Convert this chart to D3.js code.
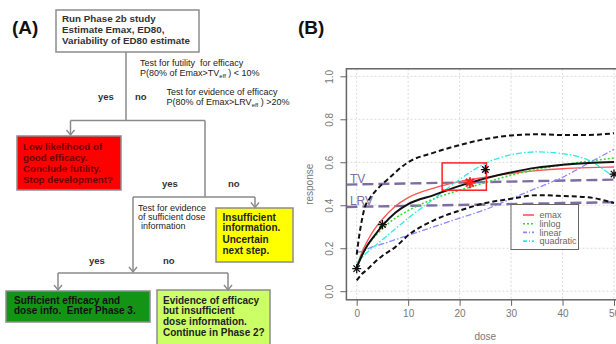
<!DOCTYPE html>
<html><head><meta charset="utf-8">
<script src="https://cdn.jsdelivr.net/npm/d3@7"></script>
<style>
html,body{margin:0;padding:0;background:#fff;}
svg{display:block;font-family:"Liberation Sans",Arial,sans-serif;}
</style></head>
<body>
<svg id="chart" width="616" height="344"></svg>
<script>
// ---------------- DATA (panel B) ----------------
const doseGrid   = [0,1,2,3.5,5,7.5,10,15,20,25,30,35,40,45,50];
const meanResp   = [0.11,0.165,0.21,0.26,0.305,0.365,0.405,0.447,0.49,0.525,0.553,0.575,0.588,0.597,0.601];
const emaxResp   = [0.11,0.18,0.23,0.29,0.335,0.395,0.435,0.48,0.51,0.53,0.548,0.561,0.57,0.575,0.578];
const linlogResp = [0.12,0.17,0.21,0.255,0.29,0.34,0.375,0.43,0.47,0.505,0.54,0.567,0.588,0.605,0.62];
const linearResp = [0.18,0.185,0.195,0.21,0.22,0.24,0.26,0.30,0.34,0.38,0.43,0.48,0.53,0.595,0.66];
const quadResp   = [0.13,0.155,0.18,0.21,0.24,0.29,0.34,0.43,0.52,0.595,0.635,0.648,0.64,0.61,0.53];
const lowerResp  = [0.05,0.08,0.10,0.135,0.165,0.205,0.26,0.33,0.375,0.41,0.43,0.447,0.443,0.437,0.41];
const upperDose  = [0,0.5,1,1.5,2.5,4,6,10,15,20,25,30,35,40,45,50];
const upperResp  = [0.17,0.26,0.33,0.385,0.43,0.475,0.52,0.6,0.645,0.68,0.708,0.725,0.73,0.727,0.727,0.735];
const obsDose    = [0,5,25,50];
const obsResp    = [0.105,0.31,0.566,0.545];
const ed80Dose   = [22];
const ed80Resp   = [0.505];
const boxDose    = [16.6,25.2];
const boxResp    = [0.47,0.597];
const refLabels  = ["TV","LRV"];
const refStart   = [0.496,0.392];   // value at left edge
const refEnd     = [0.52,0.415];    // value at right edge
const xTicks     = [0,10,20,30,40,50];
const yTicks     = [0,0.2,0.4,0.6,0.8,1.0];
const legendLabels = ["emax","linlog","linear","quadratic"];

const svg = d3.select("#chart");
const FONT = '"Liberation Sans",Arial,sans-serif';

// ---------------- PANEL A: flowchart ----------------
const A = svg.append("g");
A.append("text").attr("x",12).attr("y",34).attr("font-size",19).attr("font-weight","bold").attr("fill","#111").text("(A)");

const lineCol = "#8a8a8a";
function seg(x1,y1,x2,y2){ A.append("line").attr("x1",x1).attr("y1",y1).attr("x2",x2).attr("y2",y2).attr("stroke",lineCol).attr("stroke-width",1.5); }
function arrowDown(x,y1,y2){
  seg(x,y1,x,y2);
  A.append("path").attr("d",`M${x-4},${y2-5}L${x},${y2}L${x+4},${y2-5}`).attr("fill","none").attr("stroke",lineCol).attr("stroke-width",1.4);
}

const boxes = [
  {x:56,y:10,w:143,h:42,fill:"#fff",col:"#333",tx:62,fs:9.8,lines:["Run Phase 2b study","Estimate Emax, ED80,","Variability of ED80 estimate"],bl:[22,33,44]},
  {x:17,y:136,w:104,h:54,fill:"#ff0000",col:"#6b0000",tx:23,fs:9.7,lines:["Low likelihood of","good efficacy.","Conclude futility.","Stop development?"],bl:[150,161,172,183]},
  {x:216,y:208,w:77,h:54,fill:"#ffff00",col:"#222",tx:222.5,fs:10,lines:["Insufficient","information.","Uncertain","next step."],bl:[221,231,242.5,253.5]},
  {x:6,y:291,w:144,h:31,fill:"#149414",col:"#111",tx:14,fs:10,lines:["Sufficient efficacy and","dose info.  Enter Phase 3."],bl:[303.5,314]},
  {x:157,y:290,w:113,h:60,fill:"#ccff66",col:"#222",tx:163,fs:10,lines:["Evidence of efficacy","but insufficient","dose information.","Continue in Phase 2?"],bl:[303.5,314,324.5,335.5]}
];
boxes.forEach(b=>{
  A.append("rect").attr("x",b.x).attr("y",b.y).attr("width",b.w).attr("height",b.h).attr("fill",b.fill).attr("stroke","#8c8c8c").attr("stroke-width",1.5);
  b.lines.forEach((t,i)=>A.append("text").attr("x",b.tx).attr("y",b.bl[i]).attr("font-size",b.fs).attr("font-weight","bold").attr("fill",b.col).attr("xml:space","preserve").text(t));
});

// connectors
seg(126,52,126,121);
seg(70.5,120.5,205,120.5);
arrowDown(70.5,120.5,135);
seg(205,120.5,205,197);
seg(133,197,255,197);
arrowDown(255,197,207.5);
arrowDown(133,197,272);
seg(58,273,228,273);
arrowDown(58,273,290);
arrowDown(228,273,290);

function smallText(x,y,parts,bold){
  const t = A.append("text").attr("x",x).attr("y",y).attr("font-size",9).attr("fill","#222").attr("xml:space","preserve");
  if(bold) t.attr("font-weight","bold");
  parts.forEach(p=>{
    const s = t.append("tspan").text(p.t);
    if(p.sub){ s.attr("font-size",6).attr("dy",2); }
    if(p.up){ s.attr("dy",-2); }
  });
}
smallText(140,66,[{t:"Test for futility  for efficacy"}]);
smallText(140,75.5,[{t:"P(80% of Emax>TV"},{t:"eff",sub:true},{t:" ) < 10%",up:true}]);
smallText(166.5,95,[{t:"Test for evidence of efficacy"}]);
smallText(166.5,105,[{t:"P(80% of Emax>LRV"},{t:"eff",sub:true},{t:" ) >20%",up:true}]);
smallText(138,210.5,[{t:"Test for evidence"}]);
smallText(138,220,[{t:"of sufficient dose"}]);
smallText(141,229,[{t:"information"}]);

function yn(x,y,t){ A.append("text").attr("x",x).attr("y",y).attr("font-size",9.5).attr("font-weight","bold").attr("fill","#333").text(t); }
yn(98,100,"yes"); yn(135,100,"no");
yn(162,187,"yes"); yn(228,187,"no");
yn(89,264,"yes"); yn(163,264,"no");

// ---------------- PANEL B: dose-response ----------------
const B = svg.append("g");
B.append("text").attr("x",298).attr("y",34).attr("font-size",19).attr("font-weight","bold").attr("fill","#111").text("(B)");

const x = d3.scaleLinear().domain([0,50]).range([356.7,614]);
const y = d3.scaleLinear().domain([0,1]).range([291.2,76.3]);
const fx0 = x(-2), fx1 = x(52), fy0 = y(-0.04), fy1 = y(1.035);

svg.append("clipPath").attr("id","plotclip").append("rect")
  .attr("x",fx0).attr("y",fy1).attr("width",fx1-fx0).attr("height",fy0-fy1);

// grid
const grid = B.append("g");
xTicks.forEach(v=>grid.append("line").attr("x1",x(v)).attr("x2",x(v)).attr("y1",fy1).attr("y2",fy0)
  .attr("stroke","#d9d9d9").attr("stroke-dasharray","2,2").attr("stroke-width",1));
yTicks.forEach(v=>grid.append("line").attr("x1",fx0).attr("x2",fx1).attr("y1",y(v)).attr("y2",y(v))
  .attr("stroke","#d9d9d9").attr("stroke-dasharray","2,2").attr("stroke-width",1));

// axes (R style)
const axCol = "#666";
const xAxis = B.append("g").attr("transform",`translate(0,${fy0})`)
  .call(d3.axisBottom(x).tickValues(xTicks).tickSize(6).tickSizeOuter(0).tickFormat(d3.format("d")));
xAxis.select(".domain").remove();
xAxis.selectAll("line").attr("stroke",axCol);
xAxis.selectAll("text").attr("fill","#777").attr("font-size",10).attr("font-family",FONT).attr("dy","0.9em").attr("y",8);

const yAxis = B.append("g").attr("transform",`translate(${fx0},0)`)
  .call(d3.axisLeft(y).tickValues(yTicks).tickSize(6).tickSizeOuter(0).tickFormat(d3.format(".1f")));
yAxis.select(".domain").remove();
yAxis.selectAll("line").attr("stroke",axCol);
yAxis.selectAll("text").attr("fill","#777").attr("font-size",10).attr("font-family",FONT)
  .attr("text-anchor","middle").attr("x",null).attr("dy",null)
  .attr("transform","translate(-13.5,0) rotate(-90)").attr("y",0);

// frame
B.append("rect").attr("x",fx0).attr("y",fy1).attr("width",fx1-fx0).attr("height",fy0-fy1)
  .attr("fill","none").attr("stroke","#666").attr("stroke-width",1.5);

B.append("text").attr("x",(fx0+fx1)/2).attr("y",340).attr("text-anchor","middle").attr("font-size",10).attr("fill","#777").text("dose");
B.append("text").attr("transform",`translate(313,${(fy0+fy1)/2}) rotate(-90)`).attr("text-anchor","middle").attr("font-size",10).attr("fill","#777").text("response");

const P = B.append("g").attr("clip-path","url(#plotclip)");
const line = d3.line().curve(d3.curveMonotoneX);
const pts = (xs,ys)=>xs.map((d,i)=>[x(d),y(ys[i])]);

// reference lines TV, LRV
const purple = "#7e6ca3";
refLabels.forEach((lab,i)=>{
  P.append("line").attr("x1",fx0).attr("x2",fx1).attr("y1",y(refStart[i])).attr("y2",y(refEnd[i]))
    .attr("stroke",purple).attr("stroke-width",2.4).attr("stroke-dasharray","11,5");
  B.append("text").attr("x",fx0+3.5).attr("y",y(refStart[i])-1.5).attr("font-size",12).attr("fill",purple).text(lab);
});

// fitted model curves
const models = [
  {vals:emaxResp,   col:"#ff5555", dash:null,        w:1.4},
  {vals:linlogResp, col:"#33dd33", dash:"2,2",       w:1.6},
  {vals:linearResp, col:"#8888ff", dash:"6,2,1.5,2", w:1.3},
  {vals:quadResp,   col:"#33e6e6", dash:"6,2,1.5,2", w:1.3}
];
models.forEach(m=>{
  const p = P.append("path").attr("d",line(pts(doseGrid,m.vals))).attr("fill","none")
    .attr("stroke",m.col).attr("stroke-width",m.w);
  if(m.dash) p.attr("stroke-dasharray",m.dash);
});

// confidence bands
P.append("path").attr("d",line(pts(upperDose,upperResp))).attr("fill","none").attr("stroke","#111").attr("stroke-width",2).attr("stroke-dasharray","5,3");
P.append("path").attr("d",line(pts(doseGrid,lowerResp))).attr("fill","none").attr("stroke","#111").attr("stroke-width",2).attr("stroke-dasharray","5,3");
// model-averaged mean
P.append("path").attr("d",line(pts(doseGrid,meanResp))).attr("fill","none").attr("stroke","#111").attr("stroke-width",2);

// ED80 box
P.append("rect").attr("x",x(boxDose[0])).attr("y",y(boxResp[1]))
  .attr("width",x(boxDose[1])-x(boxDose[0])).attr("height",y(boxResp[0])-y(boxResp[1]))
  .attr("fill","none").attr("stroke","#ff2020").attr("stroke-width",1.5);

function star(g,cx,cy,r,col,w){
  const d = `M${cx-r},${cy}L${cx+r},${cy}M${cx},${cy-r}L${cx},${cy+r}`+
    `M${cx-r*0.72},${cy-r*0.72}L${cx+r*0.72},${cy+r*0.72}M${cx-r*0.72},${cy+r*0.72}L${cx+r*0.72},${cy-r*0.72}`;
  g.append("path").attr("d",d).attr("stroke",col).attr("stroke-width",w).attr("fill","none");
}
obsDose.forEach((d,i)=>star(B,x(d),y(obsResp[i]),4.5,"#111",1.3));
ed80Dose.forEach((d,i)=>star(B,x(d),y(ed80Resp[i]),5.5,"#ff2020",2));

// legend
const L = B.append("g");
const lx0 = 511, ly0 = 204.5, lw = 67.5, lh = 45;
L.append("rect").attr("x",lx0).attr("y",ly0).attr("width",lw).attr("height",lh).attr("fill","#fff").attr("stroke","#666").attr("stroke-width",1);
legendLabels.forEach((lab,i)=>{
  const yy = ly0 + 10.5 + i*8.7;
  const m = models[i];
  const l = L.append("line").attr("x1",lx0+12).attr("x2",lx0+23).attr("y1",yy).attr("y2",yy).attr("stroke",m.col).attr("stroke-width",1.6);
  if(m.dash) l.attr("stroke-dasharray",m.dash==="2,2"?"2,2":"4,2,1,2");
  L.append("text").attr("x",lx0+28.5).attr("y",yy+3.2).attr("font-size",9).attr("fill","#666").text(lab);
});
</script>
</body></html>
